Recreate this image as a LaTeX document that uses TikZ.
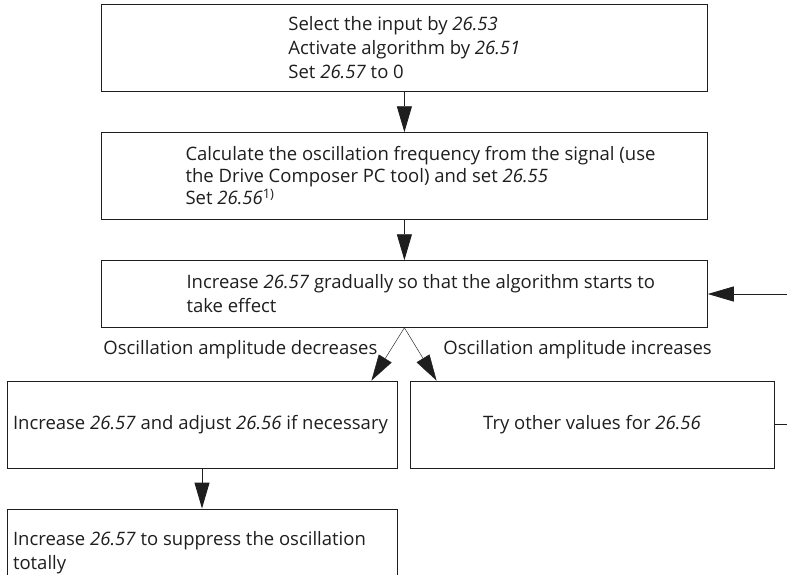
\documentclass[tikz,border=0pt]{standalone}
\usepackage{fontspec}
\setmainfont{Open Sans}
\usetikzlibrary{arrows.meta}
\definecolor{ink}{RGB}{30,30,30}

\begin{document}
\begin{tikzpicture}[
  x=1pt, y=-1pt,
  font=\fontsize{18.5}{24}\selectfont,
  line width=0.9pt,
  >={Triangle[length=26pt,width=15pt]},
  every node/.style={inner sep=0pt, text=ink},
  box/.style={draw=ink, line width=0.9pt},
  wbox/.style={box, minimum width=605.8pt},
  hbox/.style={box, minimum width=390pt, minimum height=87pt},
  txt/.style={align=left},
  flow/.style={draw=ink, ->},
  thin/.style={draw=ink, ->, line width=0.45pt},
]
\useasboundingbox (0,0) rectangle (787,574);
\clip (0,0) rectangle (787,574);

% ---------------- main column ----------------
\node[wbox, minimum height=86.3pt, txt] (select) at (404.4,47.9)
  {Select the input by \textit{26.53}\\Activate algorithm by \textit{26.51}\\Set \textit{26.57} to 0};

\node[wbox, minimum height=86.6pt] (calc) at (404.4,176) {};
\node[txt, anchor=west, font=\fontsize{18.5}{22}\selectfont] (calctxt) at ([xshift=84pt]calc.west)
  {Calculate the oscillation frequency from the signal (use\\the Drive Composer PC tool) and set \textit{26.55}\\Set \textit{26.56}\textsuperscript{1)}};

\node[wbox, minimum height=66.6pt] (raise) at (404.4,294) {};
\node[txt, anchor=west] (raisetxt) at ([xshift=85pt]raise.west)
  {Increase \textit{26.57} gradually so that the algorithm starts to\\take effect};

\draw[flow] (select) -- (calc);
\draw[flow] (calc) -- (raise);

% ---------------- branches ----------------
\node[hbox] (adjust) at (202,424.5) {};
\node[txt, anchor=west] (adjusttxt) at ([xshift=6pt]adjust.west)
  {Increase \textit{26.57} and adjust \textit{26.56} if necessary};

\node[box, minimum width=364pt, minimum height=87pt] (retry) at (592,424.5)
  {Try other values for \textit{26.56}};

\node[hbox] (total) at (202,552.5) {};
\node[txt, anchor=west] (totaltxt) at ([xshift=6pt]total.west)
  {Increase \textit{26.57} to suppress the oscillation\\totally};

\draw[thin] (raise.south) -- ([xshift=-26pt]adjust.north east);
\draw[thin] (raise.south) -- ([xshift=27pt]retry.north west);
\node[anchor=west] (lbdec) at (103,350) {Oscillation amplitude decreases};
\node[anchor=west] (lbinc) at (443,350) {Oscillation amplitude increases};

\draw[flow] (adjust) -- (total);

% feedback loop (leaves the page on the right)
\draw[flow] (retry.east) -- ++(40,0) |- (raise.east);

\end{tikzpicture}
\end{document}
